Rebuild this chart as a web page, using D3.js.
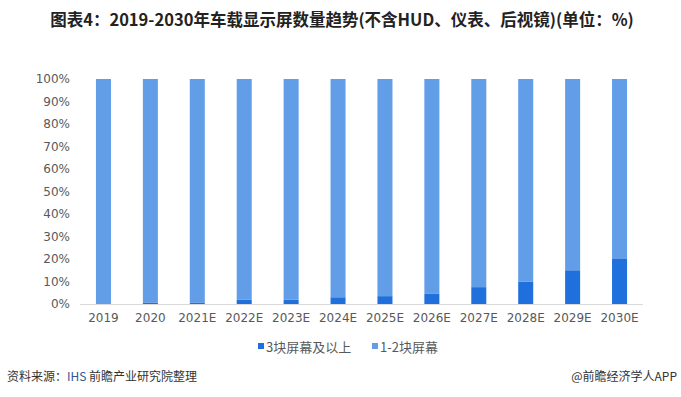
<!DOCTYPE html>
<html>
<head>
<meta charset="utf-8">
<script src="https://cdn.jsdelivr.net/npm/d3@7"></script>
<style>
  body { margin: 0; background: #fff; }
  text { font-family: "Noto Sans CJK SC", "DejaVu Sans", sans-serif; }
</style>
</head>
<body>
<div id="chart"></div>
<script>
const categories = ['2019', '2020', '2021E', '2022E', '2023E', '2024E', '2025E', '2026E', '2027E', '2028E', '2029E', '2030E'];
const threePlus = [0, 0.5, 0.5, 2, 2, 3, 3.5, 4.5, 7.5, 10, 15, 20];
const oneTwo = threePlus.map(v => 100 - v);
const seriesNames = ['3块屏幕及以上', '1-2块屏幕'];
const yTicks = [0, 10, 20, 30, 40, 50, 60, 70, 80, 90, 100];

const width = 681, height = 397;
const margin = { top: 79, right: 38, bottom: 93, left: 80 };
const colors = ['#1f6fdc', '#629de8'];

const svg = d3.select('#chart').append('svg')
  .attr('width', width)
  .attr('height', height);

// titre
svg.append('text')
  .attr('x', 342).attr('y', 26)
  .attr('text-anchor', 'middle')
  .attr('font-size', 16.5).attr('font-weight', 'bold')
  .attr('fill', '#222')
  .text('图表4：2019-2030年车载显示屏数量趋势(不含HUD、仪表、后视镜)(单位：%)');

const x = d3.scaleBand()
  .domain(categories)
  .range([margin.left, width - margin.right])
  .paddingInner(0.68).paddingOuter(0.34);

const y = d3.scaleLinear()
  .domain([0, 100])
  .range([height - margin.bottom, margin.top]);

const rows = categories.map((c, i) => ({ cat: c, a: threePlus[i], b: oneTwo[i] }));
const stack = d3.stack().keys(['a', 'b'])(rows);

svg.append('g').selectAll('g')
  .data(stack)
  .join('g')
  .attr('fill', (d, i) => colors[i])
  .selectAll('rect')
  .data(d => d)
  .join('rect')
  .attr('x', d => x(d.data.cat))
  .attr('width', x.bandwidth())
  .attr('y', d => y(d[1]))
  .attr('height', d => y(d[0]) - y(d[1]));

// axe X
const xAxis = svg.append('g')
  .attr('transform', `translate(0,${height - margin.bottom})`)
  .call(d3.axisBottom(x).tickSize(0).tickPadding(9));
xAxis.select('.domain').attr('stroke', '#d9d9d9').attr('stroke-width', 1)
  .attr('d', `M${margin.left},0.5H${width - margin.right}`);
xAxis.selectAll('text').attr('font-size', 12).attr('fill', '#595959')
  .style('font-family', '"DejaVu Sans", sans-serif');

// axe Y
const yAxis = svg.append('g')
  .attr('transform', `translate(${margin.left - 10},0)`)
  .call(d3.axisLeft(y).tickValues(yTicks).tickFormat(d => d + '%').tickSize(0).tickPadding(0));
yAxis.select('.domain').remove();
yAxis.selectAll('text').attr('font-size', 12).attr('fill', '#595959')
  .style('font-family', '"DejaVu Sans", sans-serif');

// légende
const legend = svg.append('g').attr('transform', 'translate(258,347)');
const legendX = [0, 114];
seriesNames.forEach((name, i) => {
  legend.append('rect')
    .attr('x', legendX[i]).attr('y', -4)
    .attr('width', 6).attr('height', 6)
    .attr('fill', colors[i]);
  legend.append('text')
    .attr('x', legendX[i] + 8).attr('y', 0)
    .attr('dy', '0.35em')
    .attr('font-size', 13).attr('fill', '#595959')
    .text(name);
});

// source
const src = svg.append('text')
  .attr('x', 7).attr('y', 381)
  .attr('font-size', 12).attr('fill', '#333');
src.append('tspan').text('资料来源：');
src.append('tspan').attr('fill', '#2f5597').text('IHS');
src.append('tspan').text(' 前瞻产业研究院整理');
svg.append('text')
  .attr('x', 677).attr('y', 381)
  .attr('text-anchor', 'end')
  .attr('font-size', 12).attr('fill', '#333')
  .text('@前瞻经济学人APP');
</script>
</body>
</html>
